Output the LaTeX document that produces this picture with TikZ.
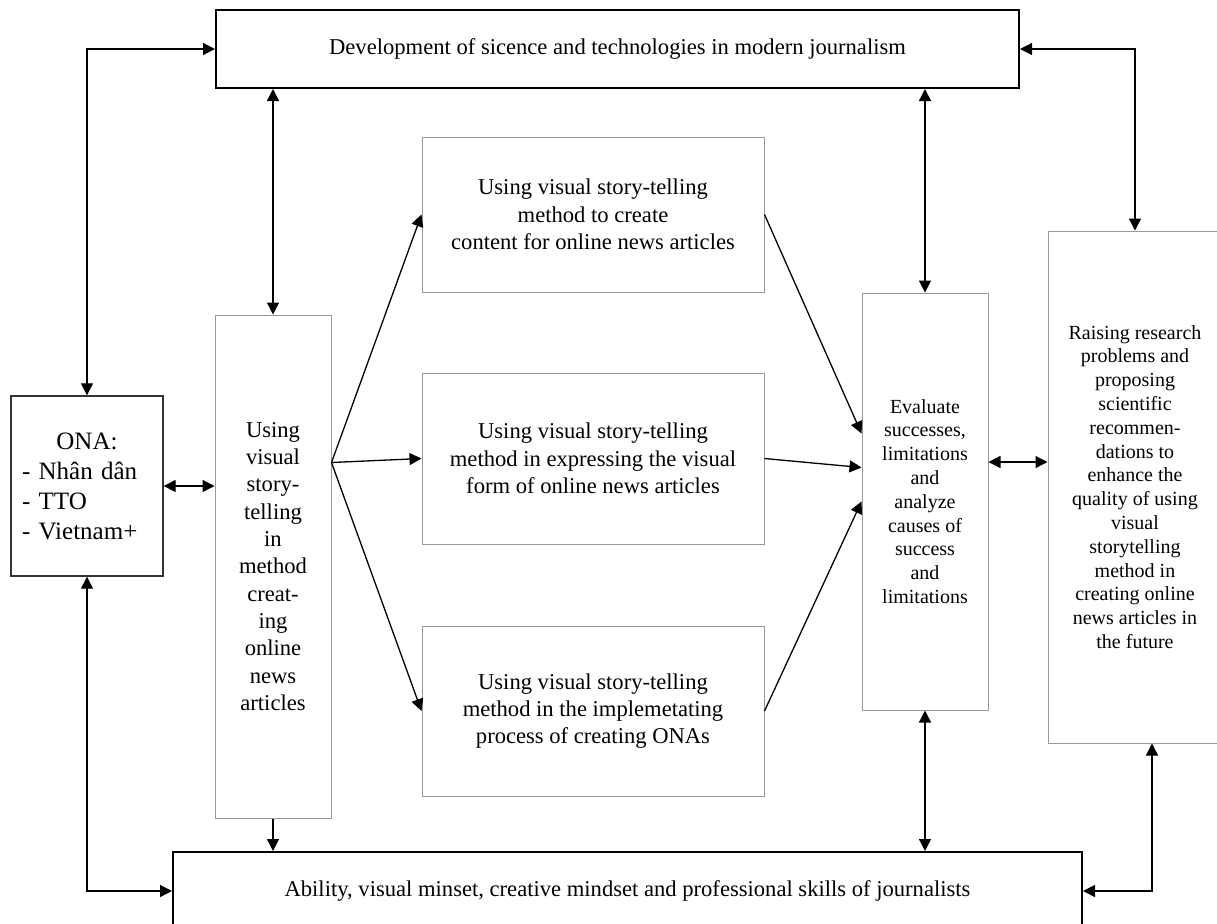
\documentclass[tikz,border=0pt]{standalone}
\usepackage{fontspec}
\setmainfont{Liberation Serif}
\usetikzlibrary{arrows.meta}
\tikzset{font=\fontsize{11.3}{13.65}\selectfont}

\begin{document}
\begin{tikzpicture}[x=0.5pt,y=-0.5pt,>={Triangle[length=6pt,width=6pt]},
      every node/.style={align=center,inner sep=0pt},
      thickbox/.style={draw,line width=1pt},
      greybox/.style={draw=black!40,line width=0.5pt},
      small/.style={font=\fontsize{10}{11.9}\selectfont},
      every path/.style={line width=0.65pt}]
      \useasboundingbox (0,0) rectangle (1217,923);

      \node[thickbox,minimum width=401.5pt,minimum height=39pt] (Dev) at (617.5,49) {Development of sicence and technologies in modern journalism};
      \node[thickbox,minimum width=454.5pt,minimum height=39pt] (Abil) at (627.5,891) {Ability, visual minset, creative mindset and professional skills of journalists};

      \node[draw=black!80,line width=0.7pt,minimum height=90pt,text width=65pt,inner xsep=5.5pt,align=left,font=\fontsize{12.5}{15}\selectfont] (ONA) at (87,486) {\makebox[65pt]{ONA:}\\- Nhân dân\\- TTO\\- Vietnam+};
      \node[greybox,minimum width=58pt,minimum height=251.5pt] (Use) at (273,566.5) {Using\\visual\\story-\\telling\\in\\method\\creat-\\ing\\online\\news\\articles};

      \node[greybox,minimum width=171pt,minimum height=77.5pt] (Box1) at (593,214.5) {Using visual story-telling\\method to create\\content for online news articles};
      \node[greybox,minimum width=171pt,minimum height=85.5pt] (Box2) at (593,458.5) {Using visual story-telling\\method in expressing the visual\\form of online news articles};
      \node[greybox,minimum width=171pt,minimum height=85pt] (Box3) at (593,711) {Using visual story-telling\\method in the implemetating\\process of creating ONAs};

      \node[greybox,small,minimum width=63pt,minimum height=208.5pt] (Eval) at (925,501.5) {Evaluate\\successes,\\limitations\\and\\analyze\\causes of\\success\\and\\limitations};
      \node[greybox,small,minimum width=87pt,minimum height=256pt] (Raise) at (1135,487) {Raising research\\problems and\\proposing\\scientific\\recommen-\\dations to\\enhance the\\quality of using\\visual\\storytelling\\method in\\creating online\\news articles in\\the future};

      \coordinate (Fan) at ([yshift=52pt]Use.east);

      \draw [<->](Dev.west) -| (ONA.north);
      \draw [<->](ONA.south) |- (Abil.west);
      \draw [<->](ONA.east) -- (ONA.east -| Use.west);
      \draw [<->](Use.north) -- (Use.north |- Dev.south);
      \draw [->](Use.south) -- (Use.south |- Abil.north);
      \draw [<->](Eval.north) -- (Eval.north |- Dev.south);
      \draw [<->](Eval.south) -- (Eval.south |- Abil.north);
      \draw [<->](Dev.east) -| (Raise.north);
      \draw [<->](Abil.east) -| ([xshift=8.5pt]Raise.south);
      \draw [<->]([yshift=19.75pt]Eval.east) -- ([yshift=19.75pt]Eval.east -| Raise.west);

      \path [->](Fan) edge (Box1.west);
      \path [->](Fan) edge (Box2.west);
      \path [->](Fan) edge (Box3.west);

      \path [->](Box1.east) edge ([yshift=34pt]Eval.west);
      \path [->](Box2.east) edge ([yshift=17pt]Eval.west);
      \path [->](Box3.east) edge (Eval.west);
\end{tikzpicture}
\end{document}
